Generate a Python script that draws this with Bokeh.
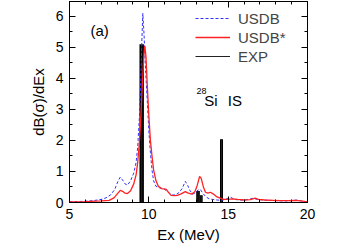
from bokeh.plotting import figure
from bokeh.models import Legend, LegendItem, Label, LinearAxis, Range1d, SingleIntervalTicker
from bokeh.embed import file_html
from bokeh.resources import INLINE

# ---- data ----
usdb_x = [5.0, 5.5, 6.0, 6.5, 7.0, 7.3, 7.6, 7.85, 8.05, 8.2, 8.35, 8.5, 8.65, 8.85,
          9.05, 9.2, 9.3, 9.4, 9.5, 9.56, 9.62, 9.7, 9.8, 9.9, 10.0, 10.1, 10.2, 10.3,
          10.45, 10.7, 10.95, 11.1, 11.3, 11.5, 11.7, 11.9, 12.1, 12.3, 12.45, 12.6,
          12.75, 12.9, 13.1, 13.25, 13.4, 13.6, 13.8, 14.0, 14.3, 14.6, 14.9, 15.15,
          15.4, 15.7, 16.0, 16.3, 16.6, 16.8, 17.2, 17.6, 18.0, 18.5, 19.0, 19.3, 19.6, 20.0]
usdb_y = [0.02, 0.03, 0.04, 0.06, 0.10, 0.15, 0.25, 0.42, 0.68, 0.82, 0.72, 0.60, 0.56, 0.70,
          0.95, 1.30, 1.80, 2.70, 4.00, 5.20, 6.10, 5.40, 4.20, 3.30, 2.30, 1.60, 1.05, 0.70,
          0.52, 0.47, 0.44, 0.38, 0.30, 0.24, 0.25, 0.32, 0.45, 0.68, 0.55, 0.38,
          0.27, 0.30, 0.40, 0.42, 0.30, 0.18, 0.12, 0.10, 0.08, 0.07, 0.12, 0.17,
          0.10, 0.08, 0.08, 0.10, 0.14, 0.10, 0.08, 0.07, 0.06, 0.05, 0.06, 0.08, 0.05, 0.02]

usdbs_x = [5.0, 6.0, 7.0, 7.5, 7.8, 8.0, 8.2, 8.35, 8.5, 8.65, 8.85, 9.05, 9.2, 9.3, 9.4,
           9.5, 9.6, 9.68, 9.75, 9.82, 9.9, 10.0, 10.1, 10.2, 10.3, 10.45, 10.6, 10.8,
           10.95, 11.1, 11.25, 11.4, 11.6, 11.8, 12.0, 12.15, 12.3, 12.45, 12.7, 12.9,
           13.05, 13.2, 13.3, 13.45, 13.57, 13.72, 13.88, 14.05, 14.3, 14.7, 15.0, 15.3,
           15.6, 16.0, 16.4, 16.7, 16.9, 17.3, 17.8, 18.3, 18.8, 19.2, 19.6, 20.0]
usdbs_y = [0.02, 0.03, 0.05, 0.07, 0.15, 0.27, 0.39, 0.36, 0.30, 0.29, 0.38, 0.60, 0.90, 1.30, 1.90,
           2.80, 3.90, 4.70, 5.05, 4.70, 3.80, 2.80, 2.00, 1.50, 1.05, 0.70, 0.52, 0.45,
           0.44, 0.42, 0.32, 0.23, 0.22, 0.23, 0.27, 0.31, 0.35, 0.31, 0.27, 0.35,
           0.55, 0.84, 0.78, 0.48, 0.33, 0.30, 0.33, 0.28, 0.18, 0.10, 0.10, 0.12,
           0.10, 0.08, 0.09, 0.14, 0.10, 0.08, 0.07, 0.06, 0.06, 0.07, 0.05, 0.02]

exp_x = [9.55, 13.10, 13.30, 14.58]
exp_y = [5.10, 0.37, 0.23, 2.04]

series_names = ["USDB", "USDB*", "EXP"]
x_label = "Ex (MeV)"
y_label = "dB(\u03c3)/dEx"

FONT = "Liberation Sans"

p = figure(x_range=Range1d(5, 20), y_range=Range1d(0, 6.48),
           frame_width=238, frame_height=201,
           min_border_left=69, min_border_right=20, min_border_top=1, min_border_bottom=40,
           output_backend="svg", toolbar_location=None)
p.grid.visible = False
p.outline_line_color = "black"
p.outline_line_width = 1
p.background_fill_color = "white"

bar_w = [0.28, 0.23, 0.19, 0.19]
bars = p.vbar(x=exp_x, top=exp_y, bottom=0, width=bar_w, fill_color="black", line_color=None)
# thin stems at the bar centres (hidden inside the bars) give the legend its line sample
r_exp = p.segment(x0=exp_x, y0=0, x1=exp_x, y1=exp_y, line_color="#222222", line_width=1)
r_blue = p.line(usdb_x, usdb_y, line_color="#3333ff", line_width=1, line_dash="3 2")
r_red = p.line(usdbs_x, usdbs_y, line_color="#ff2222", line_width=1.3)

def style_axis(ax, labels=True):
    ax.major_tick_in = 6
    ax.major_tick_out = 0
    ax.minor_tick_in = 3
    ax.minor_tick_out = 0
    ax.axis_line_color = "black"
    ax.major_tick_line_color = "black"
    ax.minor_tick_line_color = "black"
    ax.major_label_text_font = FONT
    ax.major_label_text_font_size = "14px"
    ax.major_label_text_color = "black"
    ax.axis_label_text_font = FONT
    ax.axis_label_text_font_size = "15px"
    ax.axis_label_text_font_style = "normal"
    ax.axis_label_text_color = "black"
    if not labels:
        ax.major_label_text_color = None

p.xaxis[0].ticker = SingleIntervalTicker(interval=5, num_minor_ticks=5)
p.yaxis[0].ticker = SingleIntervalTicker(interval=1, num_minor_ticks=2)
style_axis(p.xaxis[0])
style_axis(p.yaxis[0])
p.xaxis[0].axis_label = x_label
p.yaxis[0].axis_label = y_label
p.xaxis[0].major_label_standoff = 6
p.yaxis[0].major_label_standoff = 6
p.xaxis[0].axis_label_standoff = 4
p.yaxis[0].axis_label_standoff = 6

top_ax = LinearAxis(ticker=SingleIntervalTicker(interval=5, num_minor_ticks=5))
right_ax = LinearAxis(ticker=SingleIntervalTicker(interval=1, num_minor_ticks=2))
style_axis(top_ax, labels=False)
style_axis(right_ax, labels=False)
top_ax.major_label_standoff = 0
right_ax.major_label_standoff = 0
p.add_layout(top_ax, "above")
p.add_layout(right_ax, "right")

legend = Legend(items=[LegendItem(label=series_names[0], renderers=[r_blue]),
                       LegendItem(label=series_names[1], renderers=[r_red]),
                       LegendItem(label=series_names[2], renderers=[r_exp])],
                location=(126, 137), glyph_width=35, glyph_height=18, label_height=18,
                label_standoff=8, spacing=1, padding=0, margin=0,
                border_line_color=None, background_fill_alpha=0,
                label_text_font=FONT, label_text_font_size="15px")
p.add_layout(legend)

for txt, x, y, size in [("(a)", 6.32, 5.56, "15px"), ("28", 13.0, 3.58, "9px"),
                        ("Si", 13.5, 3.29, "15px"), ("IS", 14.98, 3.29, "15px")]:
    p.add_layout(Label(x=x, y=y, text=txt, text_font=FONT, text_font_size=size,
                       text_baseline="alphabetic", text_color="black"))

open("out.html", "w").write(file_html(p, INLINE))
